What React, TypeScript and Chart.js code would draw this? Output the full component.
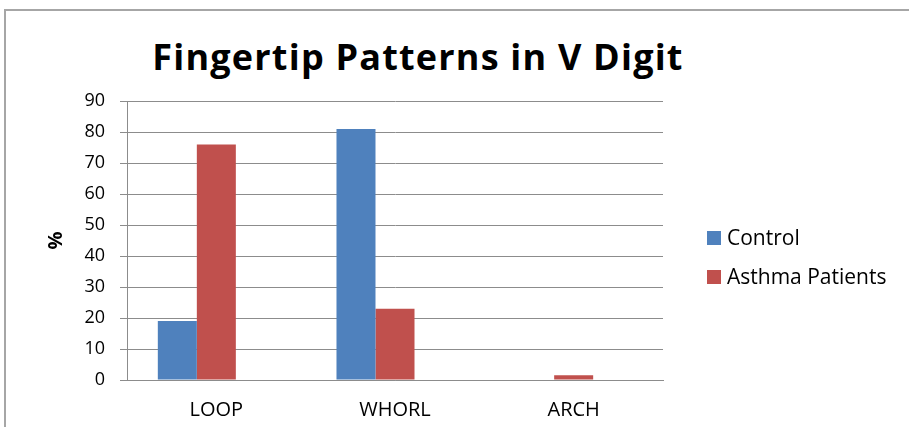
import React, { useEffect, useRef } from "react";
import { Chart, registerables } from "chart.js";

Chart.register(...registerables);

const chartTitle = "Fingertip Patterns in V Digit";
const categories = ["LOOP", "WHORL", "ARCH"];
const seriesLabels = ["Control", "Asthma Patients", ""];
const controlValues = [19, 81, 0];
const asthmaValues = [76, 23, 1.5];
// third (empty) series of the source sheet: reserves its slot in each group
const emptySeriesValues: (number | null)[] = [null, null, null];
const yAxisLabel = "%";
const yMin = 0;
const yMax = 90;
const yStep = 10;

const BLUE = "#4F81BD";
const RED = "#C0504D";
const GRID = "#8c8c8c";
const FONT = "'Open Sans'";

const sideLegend = {
  id: "sideLegend",
  afterDraw(chart: any) {
    const { ctx, chartArea } = chart;
    const x0 = chartArea.right + 44;
    const cy = (chartArea.top + chartArea.bottom) / 2 + 17;
    const gap = 39;
    const items = chart.data.datasets.filter((d: any) => d.label);
    const n = items.length;
    ctx.save();
    ctx.font = `21px ${FONT}`;
    ctx.textBaseline = "middle";
    ctx.textAlign = "left";
    items.forEach((ds: any, i: number) => {
      const y = cy + (i - (n - 1) / 2) * gap;
      ctx.fillStyle = ds.backgroundColor;
      ctx.fillRect(x0, y - 7, 14, 14);
      ctx.fillStyle = "#000";
      ctx.fillText(ds.label, x0 + 20, y + 1);
    });
    ctx.restore();
  },
};

export default function App() {
  const ref = useRef<HTMLCanvasElement>(null);

  useEffect(() => {
    const leftPad = 44;
    const catPct = 0.655;
    const chart = new Chart(ref.current!, {
      type: "bar",
      data: {
        labels: categories,
        datasets: [
          {
            label: seriesLabels[0],
            data: controlValues,
            backgroundColor: BLUE,
            categoryPercentage: catPct,
            barPercentage: 1,
          },
          {
            label: seriesLabels[1],
            data: asthmaValues,
            backgroundColor: RED,
            categoryPercentage: catPct,
            barPercentage: 1,
          },
          {
            label: seriesLabels[2],
            data: emptySeriesValues,
            backgroundColor: "#9BBB59",
            categoryPercentage: catPct,
            barPercentage: 1,
          },
        ],
      },
      options: {
        responsive: false,
        animation: false,
        layout: { padding: { left: leftPad, right: 909 - 663, top: 101, bottom: 10 } },
        plugins: {
          legend: { display: false },
          tooltip: { enabled: false },
          title: { display: false },
        },
        scales: {
          x: {
            grid: { display: false, drawTicks: false },
            border: { display: true, color: GRID },
            ticks: {
              color: "#000",
              padding: 18,
              font: { family: FONT, size: 20 },
            },
            afterFit: (s: any) => {
              s.height = 37;
            },
          },
          y: {
            min: yMin,
            max: yMax,
            ticks: {
              stepSize: yStep,
              color: "#000",
              padding: 15,
              font: { family: FONT, size: 18 },
            },
            grid: { color: GRID, tickLength: 7, tickColor: GRID },
            border: { color: GRID },
            title: {
              display: true,
              text: yAxisLabel,
              color: "#000",
              padding: { top: 0, bottom: 0 },
              font: { family: FONT, size: 20, weight: "bold" },
            },
            afterFit: (s: any) => {
              s.width = 127 - leftPad;
            },
          },
        },
      },
      plugins: [sideLegend],
    });
    return () => chart.destroy();
  }, []);

  return (
    <div style={{ position: "absolute", left: 0, top: 0, width: 909, height: 427, background: "#fff", overflow: "hidden" }}>
      <div
        style={{
          position: "absolute",
          left: 4,
          top: 9,
          width: 920,
          height: 440,
          borderLeft: "2px solid #a6a6a6",
          borderTop: "2px solid #a6a6a6",
        }}
      />
      <div
        style={{
          position: "absolute",
          left: 0,
          top: 37,
          width: 836,
          textAlign: "center",
          fontFamily: FONT,
          fontWeight: "bold",
          fontSize: 36,
          letterSpacing: "1.2px",
          lineHeight: "40px",
          color: "#000",
        }}
      >
        {chartTitle}
      </div>
      <canvas ref={ref} width={909} height={427} style={{ position: "absolute", left: 0, top: 0 }} />
    </div>
  );
}
